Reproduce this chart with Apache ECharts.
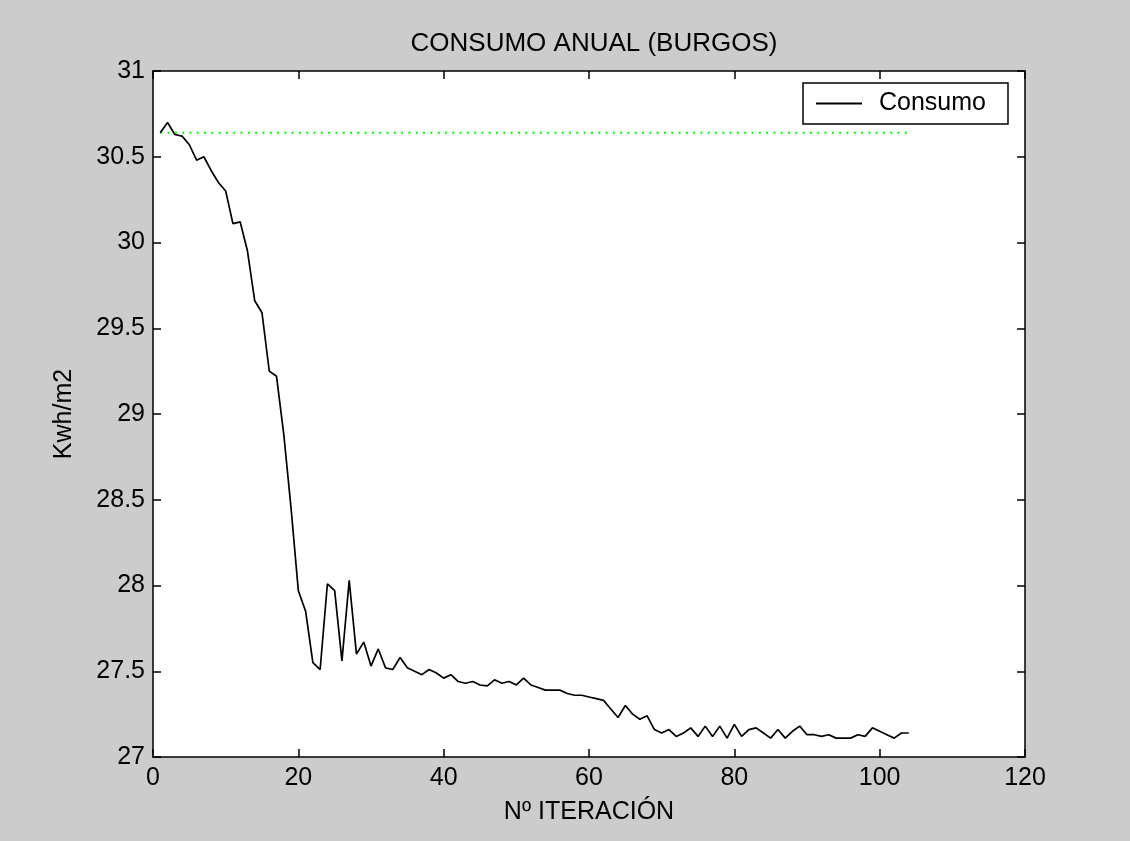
<!DOCTYPE html>
<html>
<head>
<meta charset="utf-8">
<script src="https://cdn.jsdelivr.net/npm/echarts@6/dist/echarts.min.js"></script>
<style>
  html, body { margin: 0; padding: 0; background: #cccccc; }
  #chart { width: 1130px; height: 841px; }
</style>
</head>
<body>
<div id="chart"></div>
<script>
// Annual consumption per optimisation iteration (Kwh/m2), iterations 1..104
const consumo = [
  30.64, 30.70, 30.63, 30.62, 30.57, 30.48, 30.50, 30.42, 30.35, 30.30,
  30.11, 30.12, 29.95, 29.66, 29.59, 29.25, 29.22, 28.88, 28.45, 27.97,
  27.85, 27.55, 27.51, 28.01, 27.97, 27.56, 28.03, 27.60, 27.67, 27.53,
  27.63, 27.52, 27.51, 27.58, 27.52, 27.50, 27.48, 27.51, 27.49, 27.46,
  27.48, 27.44, 27.43, 27.44, 27.42, 27.415, 27.45, 27.43, 27.44, 27.42,
  27.46, 27.42, 27.405, 27.39, 27.39, 27.39, 27.37, 27.36, 27.36, 27.35,
  27.34, 27.33, 27.28, 27.23, 27.30, 27.25, 27.22, 27.24, 27.16, 27.14,
  27.16, 27.12, 27.14, 27.17, 27.12, 27.18, 27.12, 27.18, 27.11, 27.19,
  27.12, 27.16, 27.17, 27.14, 27.11, 27.16, 27.11, 27.15, 27.18, 27.13,
  27.13, 27.12, 27.13, 27.11, 27.11, 27.11, 27.13, 27.12, 27.17, 27.15,
  27.13, 27.11, 27.14, 27.14
];
const firstIteration = 1;
// Reference level (initial consumption) drawn as a dotted line
const referencia = 30.64;
const referenciaRange = [1, 104];

const xTicks = { min: 0, max: 120, interval: 20 };
const yTicks = { min: 27, max: 31, interval: 0.5 };

const consumoData = consumo.map((v, k) => [firstIteration + k, v]);
const referenciaData = referenciaRange.map(x => [x, referencia]);

const FONT = 'Liberation Sans, Arial, sans-serif';
const txt = { color: '#000', fontFamily: FONT, fontSize: 25 };

const chart = echarts.init(document.getElementById('chart'), null, { renderer: 'canvas' });

const baseAxis = {
  axisLine: { show: true, onZero: false, lineStyle: { color: '#000', width: 1.5 } },
  axisTick: { show: true, inside: true, length: 8, lineStyle: { color: '#000', width: 1.5 } },
  splitLine: { show: false }
};

chart.setOption({
  backgroundColor: '#cccccc',
  animation: false,
  title: {
    text: 'CONSUMO ANUAL (BURGOS)',
    left: 589, top: 26, textAlign: 'center',
    textStyle: Object.assign({}, txt, { fontSize: 26, fontWeight: 'normal' })
  },
  legend: {
    data: ['Consumo'],
    left: 803, top: 83,
    padding: [8, 22, 8, 13],
    backgroundColor: '#fff',
    borderColor: '#000',
    borderWidth: 1.5,
    borderRadius: 0,
    icon: 'rect',
    itemWidth: 46,
    itemHeight: 2,
    itemStyle: { color: '#000' },
    textStyle: Object.assign({}, txt, { padding: [0, 0, 0, 12] })
  },
  grid: { left: 153, right: 105, top: 71, bottom: 84, show: true, backgroundColor: '#fff', borderWidth: 0 },
  xAxis: [
    Object.assign({}, baseAxis, {
      type: 'value', position: 'bottom',
      min: xTicks.min, max: xTicks.max, interval: xTicks.interval,
      name: 'Nº ITERACIÓN', nameLocation: 'middle', nameGap: 43,
      nameTextStyle: txt,
      axisLabel: Object.assign({}, txt, { margin: 9 })
    }),
    Object.assign({}, baseAxis, {
      type: 'value', position: 'top',
      min: xTicks.min, max: xTicks.max, interval: xTicks.interval,
      axisLabel: { show: false }
    })
  ],
  yAxis: [
    Object.assign({}, baseAxis, {
      type: 'value', position: 'left',
      min: yTicks.min, max: yTicks.max, interval: yTicks.interval,
      name: 'Kwh/m2', nameLocation: 'middle', nameGap: 76, nameRotate: 90,
      nameTextStyle: txt,
      axisLabel: Object.assign({}, txt, { margin: 8 })
    }),
    Object.assign({}, baseAxis, {
      type: 'value', position: 'right',
      min: yTicks.min, max: yTicks.max, interval: yTicks.interval,
      axisLabel: { show: false }
    })
  ],
  series: [
    {
      name: 'Consumo',
      type: 'line',
      xAxisIndex: 0, yAxisIndex: 0,
      data: consumoData,
      symbol: 'none',
      lineStyle: { color: '#000', width: 1.7 },
      itemStyle: { color: '#000' }
    },
    {
      name: 'Referencia',
      type: 'line',
      xAxisIndex: 0, yAxisIndex: 0,
      data: referenciaData,
      symbol: 'none',
      lineStyle: { color: '#00ff00', width: 2, type: [2, 5.3] },
      z: 1
    }
  ]
});
</script>
</body>
</html>
